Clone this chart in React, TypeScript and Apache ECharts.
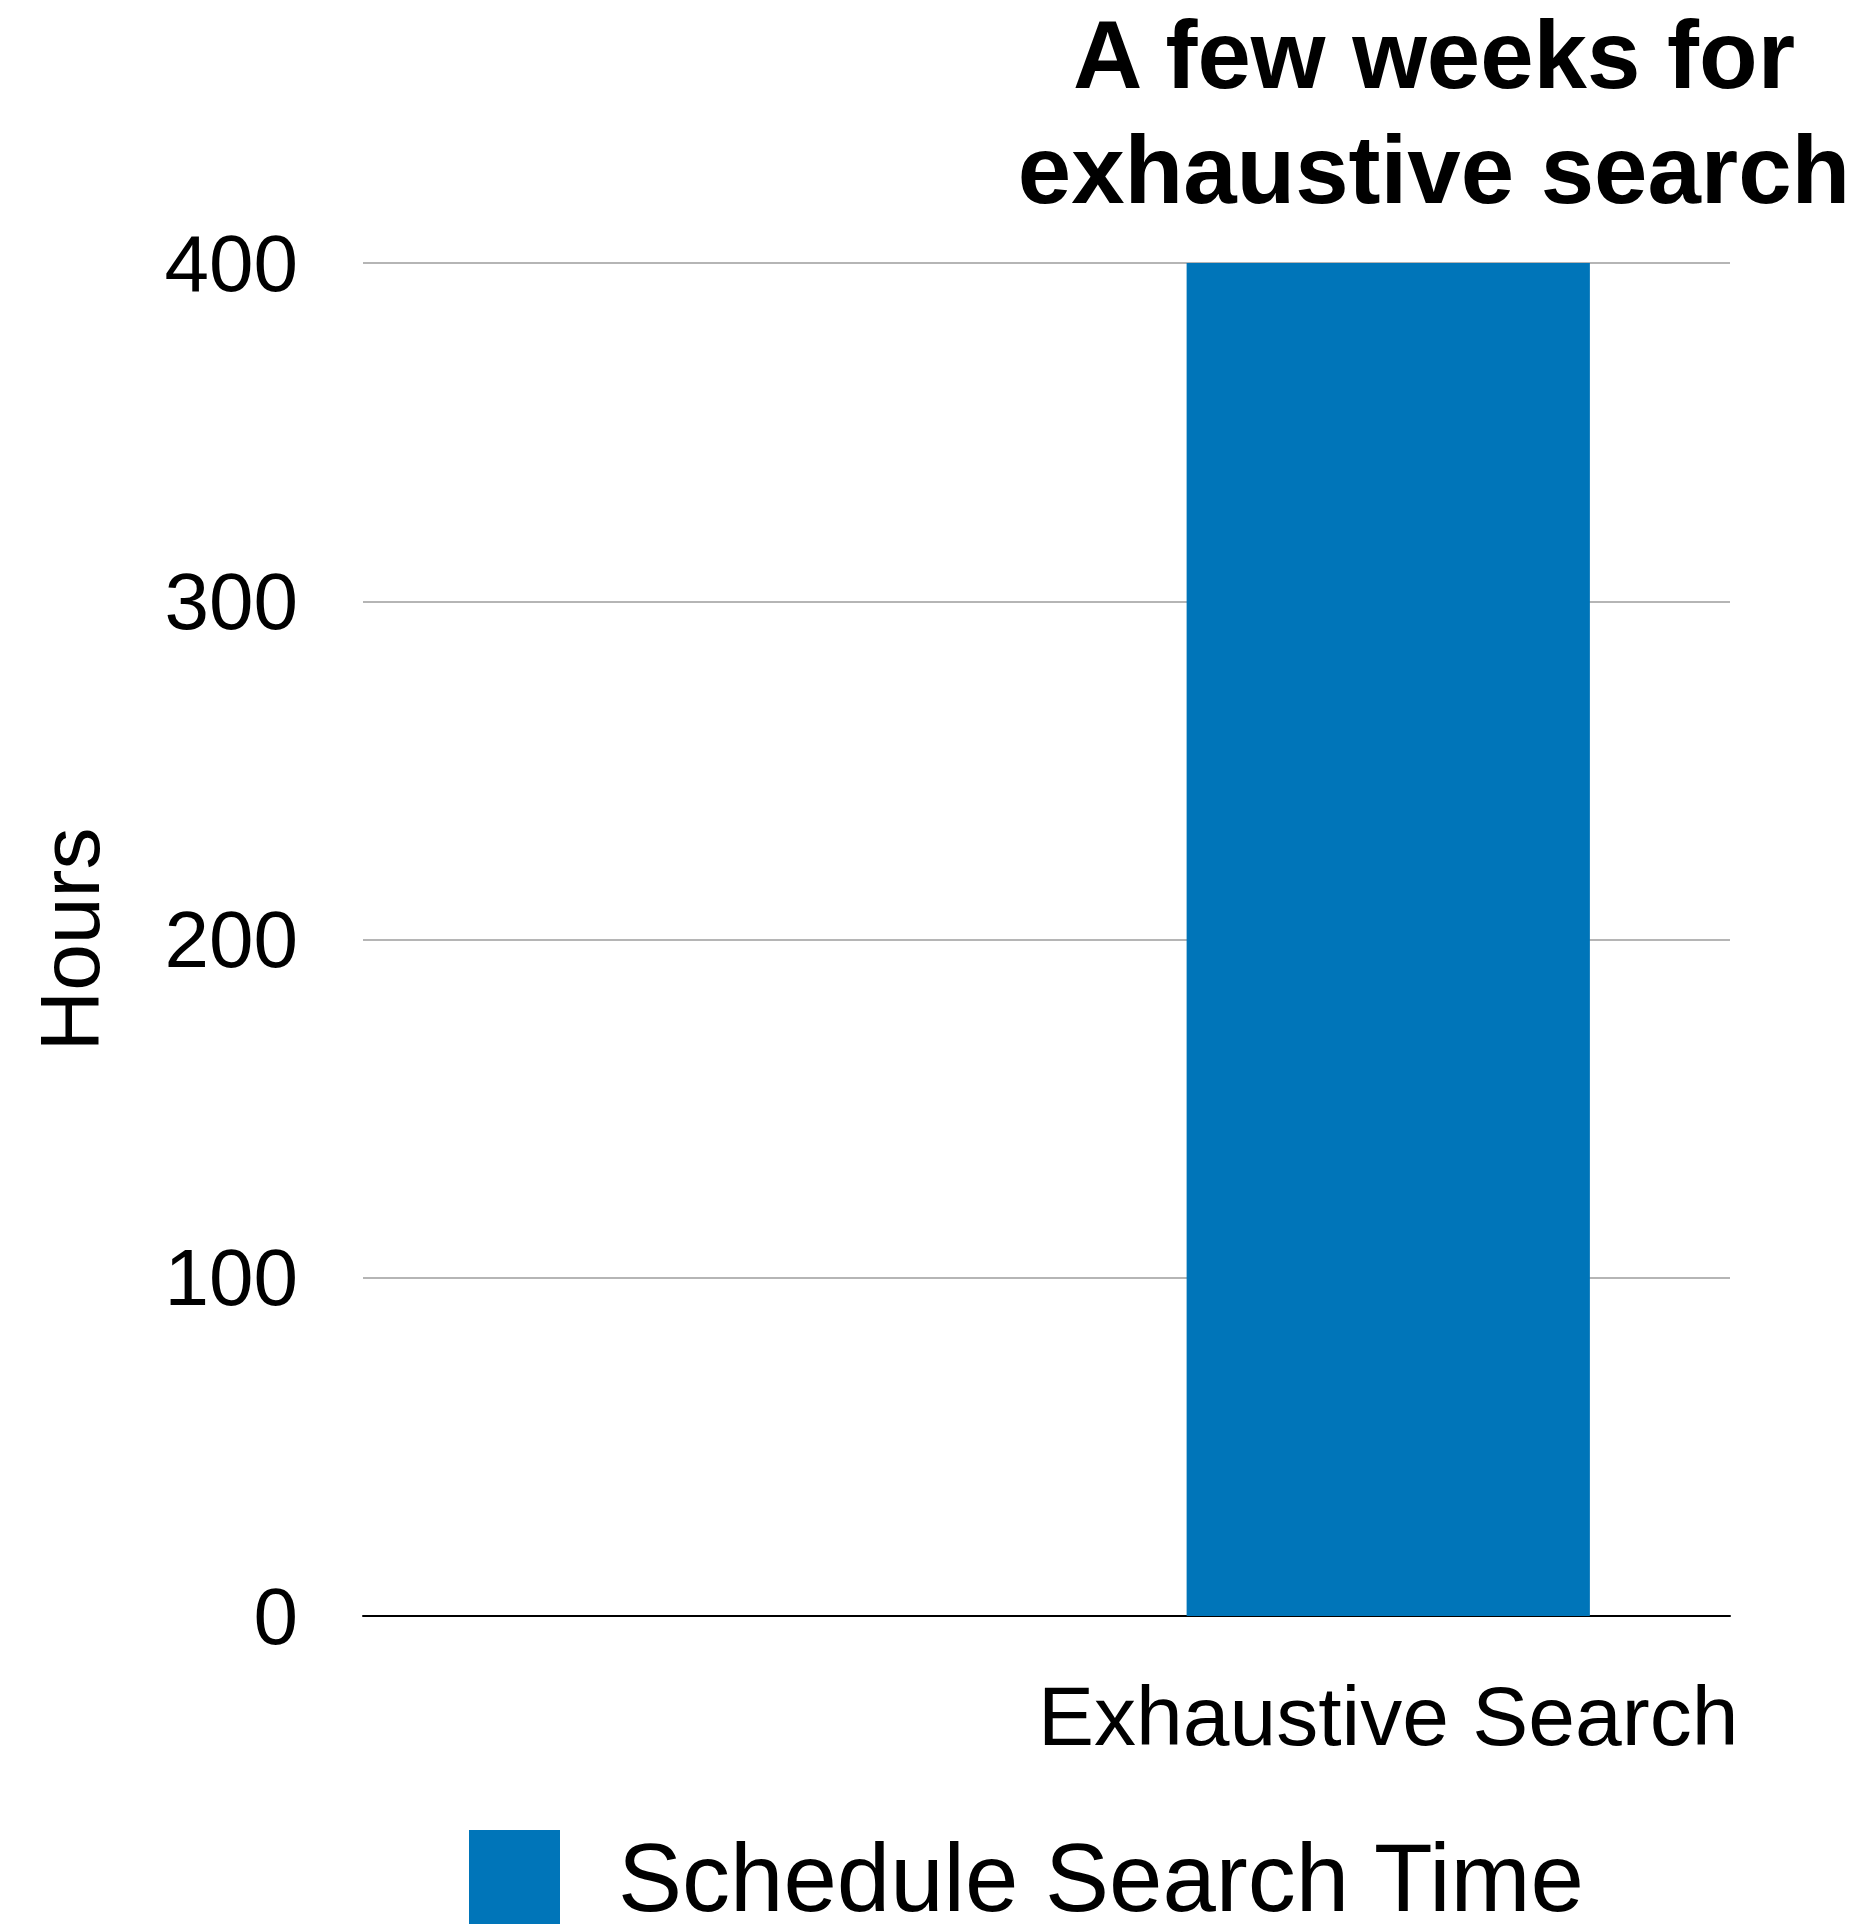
import React, { useEffect, useRef } from "react";
import * as echarts from "echarts";

const categories = ["", "Exhaustive Search"];
const seriesName = "Schedule Search Time";
const hours = [0, 400];
const yTicks = [0, 100, 200, 300, 400];
const titleLines = ["A few weeks for", "exhaustive search"];

const FONT = "'Liberation Sans', Arial, Helvetica, sans-serif";

export default function App() {
  const ref = useRef<HTMLDivElement>(null);
  useEffect(() => {
    document.body.style.margin = "0";
    document.body.style.overflow = "hidden";
    const chart = echarts.init(ref.current!, null, { renderer: "svg" });
    chart.setOption({
      animation: false,
      backgroundColor: "#ffffff",
      textStyle: { fontFamily: FONT },
      graphic: [
        {
          type: "text",
          x: 1434,
          y: -3,
          style: {
            text: titleLines.join("\n"),
            font: `bold 96px ${FONT}`,
            fill: "#000000",
            align: "center",
            verticalAlign: "top",
            lineHeight: 115,
          },
        },
      ],
      legend: {
        data: [seriesName],
        left: 469,
        top: 1829,
        padding: 0,
        itemWidth: 91,
        itemHeight: 94,
        itemGap: 58,
        icon: "rect",
        textStyle: {
          fontFamily: FONT,
          fontSize: 96,
          color: "#000000",
          padding: [0, 0, 0, 53],
          lineHeight: 88,
        },
      },
      grid: {
        left: 363,
        right: 135,
        top: 263,
        bottom: 309,
        containLabel: false,
        outerBoundsMode: "none",
      },
      xAxis: {
        type: "category",
        data: categories,
        axisLine: { show: true, lineStyle: { color: "#000000", width: 2 } },
        axisTick: { show: false },
        axisLabel: {
          fontFamily: FONT,
          fontSize: 84,
          color: "#000000",
          margin: 58,
          interval: 0,
        },
        splitLine: { show: false },
      },
      yAxis: {
        type: "value",
        min: yTicks[0],
        max: yTicks[yTicks.length - 1],
        interval: 100,
        name: "Hours",
        nameLocation: "middle",
        nameRotate: 90,
        nameGap: 251,
        nameTextStyle: { fontFamily: FONT, fontSize: 84, color: "#000000" },
        axisLine: { show: false },
        axisTick: { show: false },
        axisLabel: { fontFamily: FONT, fontSize: 80, color: "#000000", margin: 65 },
        splitLine: { show: true, lineStyle: { color: "#b5b5b5", width: 2 } },
      },
      series: [
        {
          name: seriesName,
          type: "bar",
          data: hours,
          barWidth: "59%",
          itemStyle: { color: "#0075B9" },
        },
      ],
    });
    return () => chart.dispose();
  }, []);
  return (
    <div
      ref={ref}
      style={{ position: "absolute", left: 0, top: 0, width: 1865, height: 1925 }}
    />
  );
}
